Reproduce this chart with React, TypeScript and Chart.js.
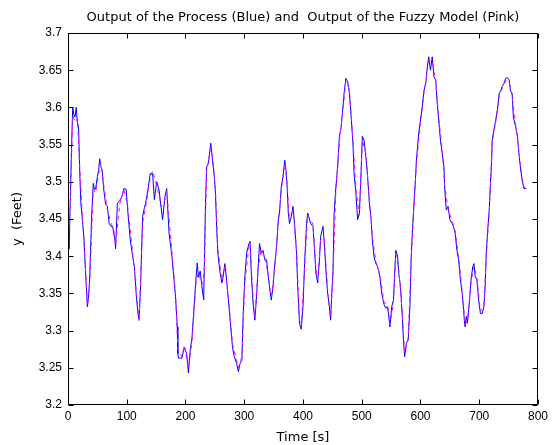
import React, { useEffect, useRef } from "react";
import { Chart, registerables } from "chart.js";

Chart.register(...registerables);

// Process output (blue)
const timeS = [
  0, 2, 4, 6, 8, 10, 12, 14, 16, 18, 20, 22, 24, 27, 30, 33, 35, 37, 40, 43, 45, 47, 50, 52, 54, 56, 58, 61, 64, 67,
  70, 73, 76, 78, 80, 81, 84, 88, 92, 95, 99, 102, 106, 110, 113, 116, 119, 121, 123.5, 127, 130, 132, 136, 140, 144,
  147, 151, 155, 159, 161, 165, 168, 172, 177, 180, 183, 186, 187, 188, 194, 198, 202, 205, 208, 211, 215, 218, 220,
  222, 225, 228, 231, 232, 234, 236, 239, 243, 246, 249, 251, 253, 255, 259, 262, 264, 267, 270, 274, 277, 280, 283,
  287, 290, 293, 296, 298, 301, 304, 308, 310, 312, 315, 318, 321, 324, 326, 329, 332, 335, 338, 341, 343, 346, 349,
  352, 355, 358, 360, 363, 366, 369, 371, 373, 375, 377, 380, 383, 386, 389, 391, 394, 397, 400, 403, 406, 408, 413,
  417, 420, 422, 425, 428, 430, 434, 436, 439, 442, 445, 447, 449, 451, 453, 456, 459, 462, 465, 468, 470, 473, 476,
  479, 482, 485, 487, 490, 493, 496, 499, 501, 504, 507, 510, 513, 516, 518, 521, 524, 527, 531, 534, 538, 541, 544,
  546, 548, 551, 554, 556, 558, 561, 563, 566, 569, 571, 573, 576, 579, 582, 584, 586, 588, 590, 592, 593, 597, 600,
  603, 606, 609, 611, 614, 617, 620, 623, 626, 628, 631, 634, 637, 640, 641, 644, 647, 650, 654, 656, 659, 662, 665,
  668, 671, 673, 675, 676, 678, 680, 684, 686, 689, 691, 693, 696, 699, 702, 705, 708, 710, 712, 714, 717, 719, 721,
  722, 725, 728, 731, 734, 737, 739, 742, 745, 748, 751, 753, 756, 758, 762, 765, 768, 770, 773, 776, 780,
];
const processY = [
  3.43, 3.41, 3.48, 3.545, 3.6, 3.59, 3.587, 3.6, 3.58, 3.574, 3.512, 3.47, 3.453, 3.426, 3.377, 3.332, 3.345, 3.372,
  3.449, 3.498, 3.49, 3.49, 3.507, 3.515, 3.531, 3.52, 3.516, 3.489, 3.47, 3.467, 3.444, 3.44, 3.44, 3.43, 3.422, 3.41,
  3.471, 3.475, 3.48, 3.491, 3.49, 3.458, 3.422, 3.4, 3.386, 3.35, 3.323, 3.315, 3.359, 3.453, 3.465, 3.471, 3.489,
  3.511, 3.511, 3.476, 3.5, 3.489, 3.462, 3.449, 3.48, 3.491, 3.431, 3.399, 3.372, 3.346, 3.305, 3.269, 3.263, 3.263,
  3.278, 3.269, 3.243, 3.274, 3.29, 3.337, 3.372, 3.391, 3.372, 3.38, 3.359, 3.341, 3.386, 3.471, 3.52, 3.525, 3.552,
  3.529, 3.507, 3.485, 3.44, 3.404, 3.377, 3.364, 3.372, 3.39, 3.368, 3.332, 3.305, 3.278, 3.265, 3.256, 3.245, 3.256,
  3.26, 3.319, 3.372, 3.404, 3.417, 3.42, 3.377, 3.337, 3.314, 3.346, 3.39, 3.417, 3.404, 3.408, 3.395, 3.395, 3.372,
  3.359, 3.341, 3.359, 3.39, 3.412, 3.449, 3.458, 3.493, 3.507, 3.529, 3.516, 3.493, 3.458, 3.444, 3.453, 3.467, 3.44,
  3.404, 3.359, 3.31, 3.302, 3.332, 3.395, 3.444, 3.458, 3.444, 3.44, 3.404, 3.377, 3.364, 3.395, 3.426, 3.44, 3.42,
  3.381, 3.35, 3.332, 3.314, 3.35, 3.377, 3.458, 3.493, 3.52, 3.561, 3.574, 3.601, 3.619, 3.639, 3.635, 3.619, 3.587,
  3.552, 3.511, 3.485, 3.449, 3.458, 3.516, 3.561, 3.556, 3.534, 3.507, 3.471, 3.449, 3.422, 3.399, 3.39, 3.386, 3.372,
  3.35, 3.335, 3.33, 3.332, 3.319, 3.305, 3.332, 3.341, 3.377, 3.408, 3.4, 3.377, 3.359, 3.319, 3.287, 3.265, 3.283,
  3.287, 3.332, 3.395, 3.431, 3.458, 3.485, 3.511, 3.529, 3.565, 3.583, 3.601, 3.623, 3.632, 3.65, 3.668, 3.65, 3.668,
  3.641, 3.637, 3.61, 3.583, 3.556, 3.538, 3.52, 3.493, 3.462, 3.467, 3.449, 3.444, 3.44, 3.431, 3.408, 3.395, 3.368,
  3.35, 3.332, 3.31, 3.305, 3.319, 3.31, 3.346, 3.368, 3.386, 3.39, 3.373, 3.368, 3.341, 3.323, 3.323, 3.332, 3.359,
  3.404, 3.431, 3.462, 3.498, 3.525, 3.556, 3.57, 3.583, 3.597, 3.619, 3.623, 3.628, 3.632, 3.639, 3.64, 3.637, 3.623,
  3.619, 3.587, 3.574, 3.561, 3.534, 3.52, 3.502, 3.491, 3.491,
];

// Fuzzy model output (pink)
const modelTimeS = [
  0, 4, 8, 12, 16, 20, 24, 30, 33, 37, 43, 47, 52, 56, 61, 67, 73, 78, 81, 88, 95, 102, 110, 116, 121, 127, 132, 140,
  144, 151, 159, 165, 168, 177, 183, 187, 194, 198, 205, 211, 218, 222, 228, 232, 236, 243, 246, 251, 255, 262, 267,
  274, 280, 287, 290, 296, 301, 308, 310, 315, 318, 324, 329, 335, 341, 346, 352, 358, 363, 369, 373, 377, 383, 389,
  394, 397, 403, 408, 417, 422, 425, 430, 436, 442, 447, 451, 456, 462, 468, 473, 479, 485, 490, 496, 501, 507, 513,
  518, 524, 531, 538, 544, 548, 554, 558, 563, 569, 573, 579, 584, 588, 593, 600, 606, 611, 614, 620, 626, 631, 637,
  641, 647, 654, 659, 665, 671, 676, 680, 686, 691, 696, 702, 708, 712, 717, 722, 728, 734, 739, 745, 751, 756, 762,
  768, 773, 776, 780,
];
const modelY = [
  3.42, 3.47, 3.59, 3.58, 3.585, 3.52, 3.46, 3.38, 3.335, 3.365, 3.49, 3.485, 3.51, 3.525, 3.495, 3.462, 3.445, 3.435,
  3.415, 3.47, 3.49, 3.465, 3.405, 3.355, 3.312, 3.445, 3.465, 3.505, 3.515, 3.495, 3.466, 3.476, 3.488, 3.405, 3.35,
  3.275, 3.265, 3.28, 3.25, 3.285, 3.365, 3.378, 3.362, 3.38, 3.515, 3.545, 3.535, 3.49, 3.41, 3.368, 3.385, 3.337,
  3.282, 3.26, 3.25, 3.265, 3.365, 3.413, 3.418, 3.342, 3.318, 3.385, 3.41, 3.398, 3.375, 3.345, 3.385, 3.445, 3.488,
  3.525, 3.498, 3.448, 3.462, 3.41, 3.315, 3.305, 3.39, 3.455, 3.443, 3.382, 3.368, 3.422, 3.425, 3.355, 3.318, 3.372,
  3.49, 3.555, 3.597, 3.635, 3.624, 3.557, 3.49, 3.455, 3.556, 3.538, 3.475, 3.427, 3.393, 3.375, 3.338, 3.335, 3.308,
  3.338, 3.403, 3.382, 3.323, 3.27, 3.29, 3.39, 3.455, 3.525, 3.578, 3.62, 3.645, 3.663, 3.662, 3.633, 3.587, 3.542,
  3.497, 3.463, 3.447, 3.434, 3.398, 3.353, 3.308, 3.313, 3.365, 3.387, 3.371, 3.326, 3.335, 3.4, 3.458, 3.552, 3.58,
  3.615, 3.625, 3.636, 3.634, 3.615, 3.577, 3.538, 3.505, 3.494, 3.49,
];

const xTicks = [0, 100, 200, 300, 400, 500, 600, 700, 800];
const yTicks = [3.2, 3.25, 3.3, 3.35, 3.4, 3.45, 3.5, 3.55, 3.6, 3.65, 3.7];
const yTickLabels = ["3.2", "3.25", "3.3", "3.35", "3.4", "3.45", "3.5", "3.55", "3.6", "3.65", "3.7"];

const chartTitle = "Output of the Process (Blue) and  Output of the Fuzzy Model (Pink)";
const xTitle = "Time [s]";
const yTitle = "y  (Feet)";

const FONT = "'Liberation Sans', Arial, Helvetica, sans-serif";
const TITLE_FONT = "'DejaVu Sans', sans-serif";

const boxPlugin = {
  id: "matlabBox",
  afterDraw(chart: any) {
    const { ctx, chartArea, scales } = chart;
    const { left, right, top, bottom } = chartArea;
    ctx.save();
    ctx.strokeStyle = "#000";
    ctx.lineWidth = 1;
    const l = Math.round(left) + 0.5;
    const r = Math.round(right) - 0.5;
    const t = Math.round(top) + 0.5;
    const b = Math.round(bottom) - 0.5;
    ctx.beginPath();
    ctx.rect(l, t, r - l, b - t);
    ctx.stroke();
    const len = 5;
    ctx.beginPath();
    for (const v of xTicks) {
      const px = Math.round(scales.x.getPixelForValue(v)) + 0.5;
      ctx.moveTo(px, b);
      ctx.lineTo(px, b - len);
      ctx.moveTo(px, t);
      ctx.lineTo(px, t + len);
    }
    for (const v of yTicks) {
      const py = Math.round(scales.y.getPixelForValue(v)) + 0.5;
      ctx.moveTo(l, py);
      ctx.lineTo(l + len, py);
      ctx.moveTo(r, py);
      ctx.lineTo(r - len, py);
    }
    ctx.stroke();
    ctx.fillStyle = "#000";
    ctx.font = `13px ${TITLE_FONT}`;
    ctx.textAlign = "center";
    ctx.textBaseline = "middle";
    ctx.fillText(chartTitle, (left + right) / 2, 18);
    ctx.restore();
  },
};

export default function App() {
  const ref = useRef<HTMLCanvasElement | null>(null);

  useEffect(() => {
    document.body.style.margin = "0";
    const canvas = ref.current;
    if (!canvas) return;
    const chart = new Chart(canvas, {
      type: "line",
      data: {
        datasets: [
          {
            label: "Fuzzy Model",
            data: modelTimeS.map((t, i) => ({ x: t, y: modelY[i] })),
            borderColor: "#ff00ff",
            borderWidth: 1,
            borderDash: [4, 4],
            pointRadius: 0,
            fill: false,
            tension: 0,
            order: 0,
          },
          {
            label: "Process",
            data: timeS.map((t, i) => ({ x: t, y: processY[i] })),
            borderColor: "#0000ff",
            borderWidth: 1,
            pointRadius: 0,
            fill: false,
            tension: 0,
            order: 1,
          },
        ],
      },
      options: {
        responsive: false,
        animation: false,
        devicePixelRatio: 1,
        layout: { padding: { left: 0, right: 11, top: 33, bottom: 0 } },
        plugins: {
          legend: { display: false },
          tooltip: { enabled: false },
          title: { display: false },
        },
        scales: {
          x: {
            type: "linear",
            min: 0,
            max: 800,
            afterBuildTicks: (scale: any) => {
              scale.ticks = xTicks.map((v) => ({ value: v }));
            },
            afterFit: (scale: any) => {
              scale.height = 40;
            },
            grid: { display: false, drawTicks: false },
            border: { display: false },
            ticks: {
              color: "#000",
              font: { family: FONT, size: 12 },
              padding: 4,
              maxRotation: 0,
              autoSkip: false,
              callback: (v: any) => String(v),
            },
            title: {
              display: true,
              text: xTitle,
              color: "#000",
              font: { family: TITLE_FONT, size: 13 },
              padding: { top: 3, bottom: 0 },
            },
          },
          y: {
            type: "linear",
            min: 3.2,
            max: 3.7,
            afterBuildTicks: (scale: any) => {
              scale.ticks = yTicks.map((v) => ({ value: v }));
            },
            afterFit: (scale: any) => {
              scale.width = 68;
            },
            grid: { display: false, drawTicks: false },
            border: { display: false },
            ticks: {
              color: "#000",
              font: { family: FONT, size: 12 },
              padding: 6,
              autoSkip: false,
              callback: (v: any) => {
                const i = yTicks.findIndex((t) => Math.abs(t - v) < 1e-9);
                return i >= 0 ? yTickLabels[i] : "";
              },
            },
            title: {
              display: true,
              text: yTitle,
              color: "#000",
              font: { family: TITLE_FONT, size: 13 },
              padding: { top: 10, bottom: 0 },
            },
          },
        },
      },
      plugins: [boxPlugin],
    });
    return () => chart.destroy();
  }, []);

  return (
    <div style={{ width: 552, height: 445, background: "#fff" }}>
      <canvas ref={ref} width={552} height={445} style={{ display: "block" }} />
    </div>
  );
}
